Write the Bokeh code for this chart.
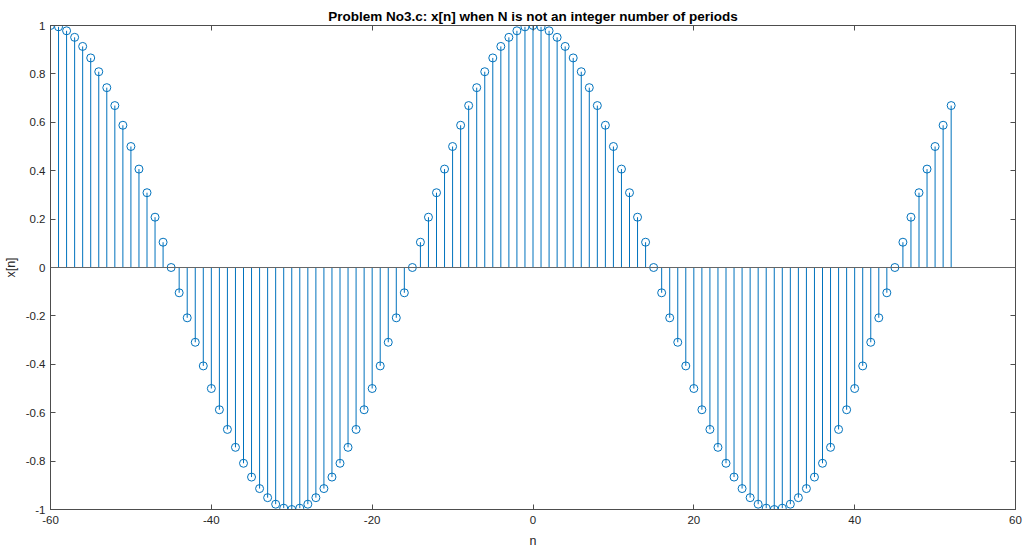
from bokeh.plotting import figure
from bokeh.models import LinearAxis, Range1d, Span, FixedTicker, ColumnDataSource
from bokeh.embed import file_html
from bokeh.resources import INLINE

n = list(range(-60, 53))
x = [
    1.0, 0.9945, 0.9781, 0.9511, 0.9135, 0.866, 0.809, 0.7431, 0.6691, 0.5878,
    0.5, 0.4067, 0.309, 0.2079, 0.1045, 0.0, -0.1045, -0.2079, -0.309, -0.4067,
    -0.5, -0.5878, -0.6691, -0.7431, -0.809, -0.866, -0.9135, -0.9511, -0.9781, -0.9945,
    -1.0, -0.9945, -0.9781, -0.9511, -0.9135, -0.866, -0.809, -0.7431, -0.6691, -0.5878,
    -0.5, -0.4067, -0.309, -0.2079, -0.1045, 0.0, 0.1045, 0.2079, 0.309, 0.4067,
    0.5, 0.5878, 0.6691, 0.7431, 0.809, 0.866, 0.9135, 0.9511, 0.9781, 0.9945,
    1.0, 0.9945, 0.9781, 0.9511, 0.9135, 0.866, 0.809, 0.7431, 0.6691, 0.5878,
    0.5, 0.4067, 0.309, 0.2079, 0.1045, 0.0, -0.1045, -0.2079, -0.309, -0.4067,
    -0.5, -0.5878, -0.6691, -0.7431, -0.809, -0.866, -0.9135, -0.9511, -0.9781, -0.9945,
    -1.0, -0.9945, -0.9781, -0.9511, -0.9135, -0.866, -0.809, -0.7431, -0.6691, -0.5878,
    -0.5, -0.4067, -0.309, -0.2079, -0.1045, 0.0, 0.1045, 0.2079, 0.309, 0.4067,
    0.5, 0.5878, 0.6691,
]
x_ticks = [-60, -40, -20, 0, 20, 40, 60]
y_ticks = [-1, -0.8, -0.6, -0.4, -0.2, 0, 0.2, 0.4, 0.6, 0.8, 1]
x_tick_labels = {-60: "-60", -40: "-40", -20: "-20", 0: "0", 20: "20", 40: "40", 60: "60"}
y_tick_labels = {-1: "-1", -0.8: "-0.8", -0.6: "-0.6", -0.4: "-0.4", -0.2: "-0.2", 0: "0",
                 0.2: "0.2", 0.4: "0.4", 0.6: "0.6", 0.8: "0.8", 1: "1"}
title = "Problem No3.c: x[n] when N is not an integer number of periods"

FONT = "Liberation Sans"
STEM = "#0072BD"
AX = "#4d4d4d"
TXT = "#262626"

src = ColumnDataSource(dict(n=n, x=x, z=[0] * len(n)))

p = figure(width=1023, height=550, output_backend="svg", toolbar_location=None,
           x_range=Range1d(-60, 60), y_range=Range1d(-1, 1),
           x_axis_location=None, y_axis_location=None,
           min_border_left=50, min_border_right=8, min_border_top=25, min_border_bottom=41)
p.title.text = title
p.title.align = "center"
p.title.text_font = FONT
p.title.text_font_size = "13.5px"
p.title.text_font_style = "bold"
p.title.text_color = "#000000"
p.title.standoff = 4
p.xgrid.visible = False
p.ygrid.visible = False
p.outline_line_color = AX
p.background_fill_color = "white"
p.border_fill_color = "white"

def make_axis(cls_loc, ticks, labels, show_labels, label_text=None, standoff=4, label_standoff=4):
    ax = LinearAxis(ticker=FixedTicker(ticks=ticks))
    ax.major_label_overrides = labels
    ax.major_tick_in = 5
    ax.major_tick_out = 0
    ax.minor_tick_in = 0
    ax.minor_tick_out = 0
    ax.axis_line_color = AX
    ax.major_tick_line_color = AX
    ax.major_label_text_font = FONT
    ax.major_label_text_font_size = "11.5px"
    ax.major_label_text_color = TXT
    ax.major_label_standoff = standoff
    if not show_labels:
        ax.major_label_text_alpha = 0
        ax.major_label_text_font_size = "1px"
    if label_text:
        ax.axis_label = label_text
        ax.axis_label_text_font = FONT
        ax.axis_label_text_font_size = "12.5px"
        ax.axis_label_text_font_style = "normal"
        ax.axis_label_text_color = TXT
        ax.axis_label_standoff = label_standoff
    p.add_layout(ax, cls_loc)
    return ax

make_axis("below", x_ticks, x_tick_labels, True, "n", standoff=6, label_standoff=7)
make_axis("left", y_ticks, y_tick_labels, True, "x[n]", standoff=5, label_standoff=5)
make_axis("above", x_ticks, x_tick_labels, False)
make_axis("right", y_ticks, y_tick_labels, False)

p.add_layout(Span(location=0, dimension="width", line_color="#666666", line_width=1.2))

p.segment(x0="n", y0="z", x1="n", y1="x", source=src, line_color=STEM, line_width=1)
p.scatter(x="n", y="x", source=src, marker="circle", size=8, fill_color=None,
          line_color=STEM, line_width=1)

open("out.html", "w").write(file_html(p, INLINE))
